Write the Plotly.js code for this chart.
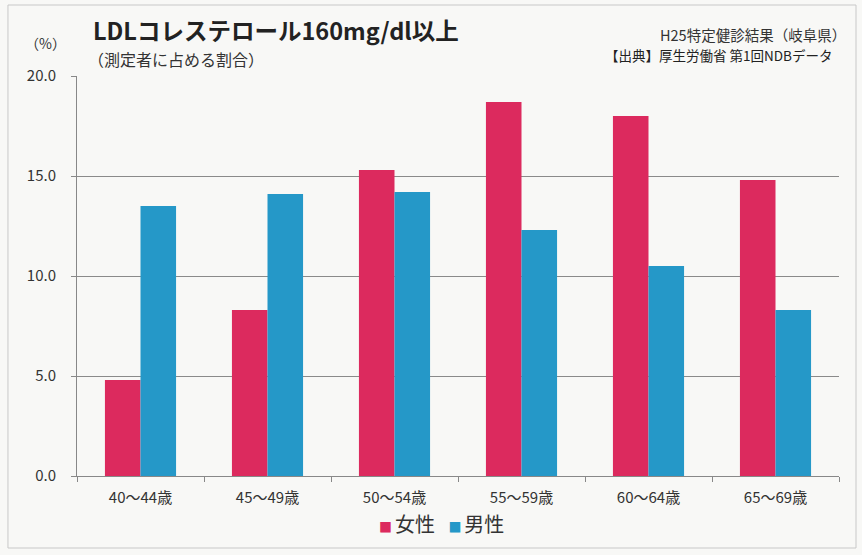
<!DOCTYPE html>
<html>
<head>
<meta charset="utf-8">
<script src="https://cdn.plot.ly/plotly-3.0.1.min.js"></script>
<style>html,body{margin:0;padding:0;background:#f8f8f6;}#chart{width:862px;height:555px;}</style>
</head>
<body>
<div id="chart"></div>
<script>
const categories = ["40～44歳", "45～49歳", "50～54歳", "55～59歳", "60～64歳", "65～69歳"];
const female = [4.8, 8.3, 15.3, 18.7, 18.0, 14.8];
const male = [13.5, 14.1, 14.2, 12.3, 10.5, 8.3];
const yTicks = [0, 5, 10, 15, 20];
const yTickText = ["0.0", "5.0", "10.0", "15.0", "20.0"];
const seriesNames = ["女性", "男性"];
const seriesColors = ["#dc2a5e", "#2598c8"];

const font = "'Noto Sans CJK JP', 'Noto Sans', sans-serif";

const data = [
  {type: "bar", name: seriesNames[0], x: categories, y: female, marker: {color: seriesColors[0]}},
  {type: "bar", name: seriesNames[1], x: categories, y: male, marker: {color: seriesColors[1]}}
];

const legendText = seriesNames.map((n, i) =>
  "<span style='color:" + seriesColors[i] + ";font-size:13px'>■&nbsp;</span>" + n).join("&nbsp;&nbsp;&nbsp;");

const layout = {
  width: 862, height: 555,
  paper_bgcolor: "#f8f8f6", plot_bgcolor: "#f8f8f6",
  margin: {l: 77, r: 23, t: 76, b: 79, autoexpand: false},
  barmode: "group", bargap: 0.44, bargroupgap: 0,
  font: {family: font, color: "#333", size: 14},
  showlegend: false,
  xaxis: {type: "category", showline: true, linecolor: "#888", linewidth: 1,
          ticks: "outside", tickson: "boundaries", ticklen: 5, tickcolor: "#888",
          ticklabelstandoff: 8,
          tickfont: {size: 15, color: "#333"}, showgrid: false, zeroline: false},
  yaxis: {range: [0, 20], tickvals: yTicks, ticktext: yTickText, showline: true, linecolor: "#888",
          ticks: "outside", ticklen: 5, tickcolor: "#888", gridcolor: "#8a8a8a", gridwidth: 1,
          ticklabelstandoff: 12,
          zeroline: false, tickfont: {size: 15, color: "#333"}},
  shapes: [
    {type: "rect", xref: "paper", yref: "paper", x0: -0.0906, x1: 1.0223, y0: -0.18, y1: 1.1775,
     line: {color: "#c8c8c8", width: 1}, fillcolor: "rgba(0,0,0,0)", layer: "below"}
  ],
  annotations: [
    {xref: "paper", yref: "paper", x: 0.019, y: 1.115, xanchor: "left", yanchor: "middle", showarrow: false,
     text: "<b>LDLコレステロール160mg/dl以上</b>", font: {size: 23.5, color: "#222"}},
    {xref: "paper", yref: "paper", x: -0.041, y: 1.0825, xanchor: "center", yanchor: "middle", showarrow: false,
     text: "（%）", font: {size: 14, color: "#333"}},
    {xref: "paper", yref: "paper", x: 0.012, y: 1.043, xanchor: "left", yanchor: "middle", showarrow: false,
     text: "（測定者に占める割合）", font: {size: 16, color: "#333"}},
    {xref: "paper", yref: "paper", x: 1.012, y: 1.1025, xanchor: "right", yanchor: "middle", showarrow: false,
     text: "H25特定健診結果（岐阜県）", font: {size: 14.5, color: "#333"}},
    {xref: "paper", yref: "paper", x: 0.993, y: 1.0525, xanchor: "right", yanchor: "middle", showarrow: false,
     text: "【出典】厚生労働省 第1回NDBデータ", font: {size: 13.5, color: "#222"}},
    {xref: "paper", yref: "paper", x: 0.479, y: -0.118, xanchor: "center", yanchor: "middle", showarrow: false,
     text: legendText, font: {size: 20, color: "#333"}}
  ]
};

Plotly.newPlot("chart", data, layout, {displayModeBar: false, staticPlot: true});
</script>
</body>
</html>
